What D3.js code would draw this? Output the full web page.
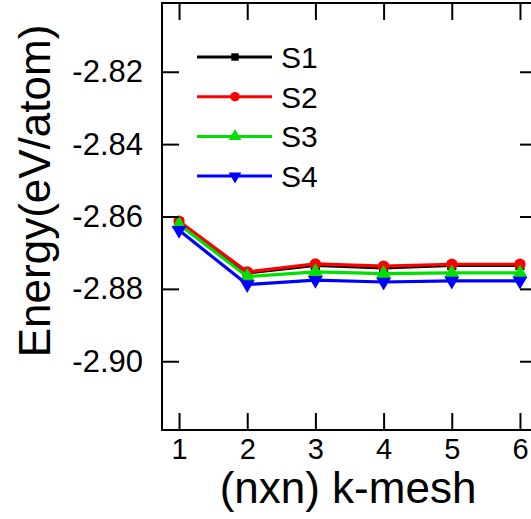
<!DOCTYPE html>
<html>
<head>
<meta charset="utf-8">
<script src="https://cdn.jsdelivr.net/npm/d3@7"></script>
<style>
  body { margin: 0; background: #fff; }
  text { font-family: "Liberation Sans", Arial, sans-serif; fill: #000; }
</style>
</head>
<body>
<svg id="chart" width="531" height="519"></svg>
<script>
var meshes = [1, 2, 3, 4, 5, 6];
var xTicks = [1, 2, 3, 4, 5, 6];
var yTicks = [-2.82, -2.84, -2.86, -2.88, -2.90];
var xLimits = [0.75, 6.25];
var yLimits = [-2.919, -2.801];

var seriesNames = ["S1", "S2", "S3", "S4"];
var s1 = [-2.8615, -2.8756, -2.8735, -2.8742, -2.8735, -2.8735];
var s2 = [-2.8613, -2.8753, -2.8731, -2.8737, -2.8732, -2.8732];
var s3 = [-2.8622, -2.8766, -2.8753, -2.8758, -2.8756, -2.8756];
var s4 = [-2.8638, -2.8788, -2.8776, -2.8781, -2.8778, -2.8778];

var colors = ["#000000", "#ff0000", "#00e000", "#0000ff"];
var symbols = [d3.symbolSquare, d3.symbolCircle, d3.symbolTriangle, "down"];

var svg = d3.select("#chart"),
    margin = {top: 3, right: -6, bottom: 89, left: 162},
    width = +svg.attr("width") - margin.left - margin.right,
    height = +svg.attr("height") - margin.top - margin.bottom,
    g = svg.append("g").attr("transform", "translate(" + margin.left + "," + margin.top + ")");

var x = d3.scaleLinear().domain(xLimits).range([0, width]);
var y = d3.scaleLinear().domain(yLimits).range([height, 0]);

var line = d3.line()
    .x(function(d) { return x(d[0]); })
    .y(function(d) { return y(d[1]); });

function marker(i) {
  if (symbols[i] === "down") {
    return function(sel) {
      sel.attr("d", d3.symbol().type(d3.symbolTriangle).size(95))
         .attr("transform", function(d) { return "translate(" + x(d[0]) + "," + y(d[1]) + ") rotate(180)"; });
    };
  }
  var size = i === 0 ? 85 : i === 1 ? 100 : 95;
  return function(sel) {
    sel.attr("d", d3.symbol().type(symbols[i]).size(size))
       .attr("transform", function(d) { return "translate(" + x(d[0]) + "," + y(d[1]) + ")"; });
  };
}

// data
[s1, s2, s3, s4].forEach(function(vals, i) {
  var data = meshes.map(function(m, j) { return [m, vals[j]]; });
  g.append("path")
      .datum(data)
      .attr("fill", "none")
      .attr("stroke", colors[i])
      .attr("stroke-width", 3.2)
      .attr("stroke-linejoin", "round")
      .attr("d", line);
  g.selectAll(".m" + i)
    .data(data)
    .enter().append("path")
      .attr("class", "m" + i)
      .attr("fill", colors[i])
      .call(marker(i));
});

// axes, ticks inward on all four sides
var tl = 17;
var fmtY = function(d) { return d3.format(".2f")(d).replace("\u2212", "-"); };
g.append("g")
    .attr("transform", "translate(0," + height + ")")
    .call(d3.axisBottom(x).tickValues(xTicks).tickSize(-tl).tickPadding(8).tickFormat(d3.format("d")))
    .call(function(a) { a.select(".domain").remove(); a.selectAll("text").attr("font-size", 29).attr("font-family", "Liberation Sans, Arial, sans-serif"); });
g.append("g")
    .call(d3.axisTop(x).tickValues(xTicks).tickSize(-tl).tickFormat(""))
    .select(".domain").remove();
g.append("g")
    .call(d3.axisLeft(y).tickValues(yTicks).tickSize(-tl).tickPadding(19).tickFormat(fmtY))
    .call(function(a) { a.select(".domain").remove(); a.selectAll("text").attr("font-size", 31).attr("font-family", "Liberation Sans, Arial, sans-serif"); });
g.append("g")
    .attr("transform", "translate(" + width + ",0)")
    .call(d3.axisRight(y).tickValues(yTicks).tickSize(-tl).tickFormat(""))
    .select(".domain").remove();
g.selectAll(".tick line").attr("stroke", "#000").attr("stroke-width", 2);

g.append("rect")
    .attr("width", width)
    .attr("height", height)
    .attr("fill", "none")
    .attr("stroke", "#000")
    .attr("stroke-width", 2);

// legend
var legend = g.append("g").attr("transform", "translate(35,54)");
seriesNames.forEach(function(name, i) {
  var row = legend.append("g").attr("transform", "translate(0," + (i * 39.7) + ")");
  row.append("line")
      .attr("x1", 0).attr("x2", 75)
      .attr("stroke", colors[i]).attr("stroke-width", 3);
  var sym = d3.symbol().type(i === 3 ? d3.symbolTriangle : symbols[i]).size(i === 0 ? 55 : 70);
  row.append("path")
      .attr("d", sym)
      .attr("fill", colors[i])
      .attr("transform", "translate(38,0)" + (i === 3 ? " rotate(180)" : ""));
  row.append("text")
      .attr("x", 84)
      .attr("dy", "0.36em")
      .attr("font-size", 30)
      .text(name);
});

// axis titles
svg.append("text")
    .attr("x", 348)
    .attr("y", 503)
    .attr("text-anchor", "middle")
    .attr("font-size", 44)
    .text("(nxn) k-mesh");
svg.append("text")
    .attr("transform", "translate(50,191) rotate(-90)")
    .attr("text-anchor", "middle")
    .attr("font-size", 44)
    .text("Energy(eV/atom)");
</script>
</body>
</html>
